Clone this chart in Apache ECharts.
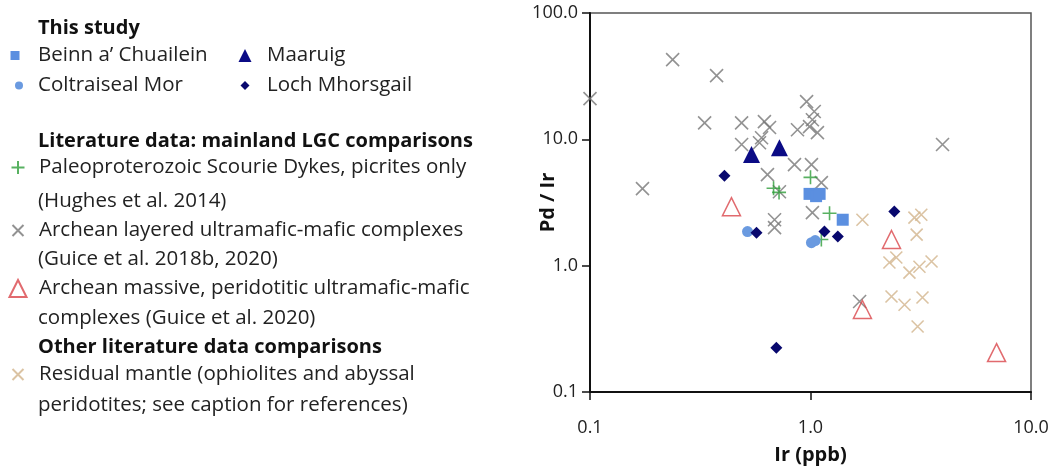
<!DOCTYPE html>
<html><head><meta charset="utf-8">
<script src="https://cdn.jsdelivr.net/npm/echarts@6/dist/echarts.min.js"></script>
<style>html,body{margin:0;padding:0;background:#fff}#c{width:1063px;height:476px}</style>
</head><body><div id="c"></div>
<script>
// Ir (ppb), Pd/Ir pairs per group
const beinnSquares = [[0.99,3.7],[1.06,3.55],[1.1,3.7],[1.40,2.31]];
const coltraisealCircles = [[0.518,1.86],[1.01,1.52],[1.05,1.58]];
const maaruigTriangles = [[0.54,7.57],[0.723,8.59]];
const lochDiamonds = [[0.407,5.16],[0.569,1.82],[0.70,0.224],[1.157,1.86],[1.33,1.70],[2.40,2.68]];
const scourieDykes = [[0.68,4.1],[0.72,3.8],[1.0,5.0],[1.22,2.6],[1.12,1.61]];
const archeanLayered = [[0.1,21],[0.237,42.7],[0.375,31.9],[0.331,13.5],[0.173,4.07],[0.487,13.5],[0.618,13.8],[0.652,12.4],[0.487,9.1],[0.60,10.3],[0.587,9.4],[0.96,19.9],[1.04,16.6],[0.873,11.9],[0.99,12.6],[1.075,11.3],[1.02,14.3],[0.638,5.25],[0.846,6.3],[1.01,6.3],[0.723,3.85],[3.97,9.1],[0.687,2.31],[0.687,2.0],[1.12,4.54],[1.02,2.63],[1.67,0.52]];
const archeanMassive = [[0.438,2.93],[2.33,1.61],[1.72,0.45],[6.98,0.205]];
const residualMantle = [[1.72,2.31],[2.96,2.40],[3.18,2.53],[3.03,1.76],[2.28,1.06],[2.45,1.16],[2.81,0.88],[3.12,0.98],[3.54,1.08],[2.33,0.57],[2.67,0.49],[3.22,0.56],[3.06,0.33]];

const names = {
  beinn: 'Beinn a\u2019 Chuailein',
  colt: 'Coltraiseal Mor',
  maar: 'Maaruig',
  loch: 'Loch Mhorsgail',
  scour: 'Paleoproterozoic Scourie Dykes, picrites only',
  layered: 'Archean layered ultramafic-mafic complexes',
  massive: 'Archean massive, peridotitic ultramafic-mafic',
  mantle: 'Residual mantle (ophiolites and abyssal'
};
const headings = [['This study',26],['Literature data: mainland LGC comparisons',139],['Other literature data comparisons',345]];
const contLines = [['(Hughes et al. 2014)',199],['(Guice et al. 2018b, 2020)',257],['complexes (Guice et al. 2020)',316],['peridotites; see caption for references)',403]];

const FONT = 'Open Sans';
const LFS = 20.5;
const HFS = 20;
const XPATH = 'path://M0,0L10,10M10,0L0,10';
const PPATH = 'path://M5,0L5,10M0,5L10,5';

function strokeSeries(name, data, path, color, size, z) {
  return {type:'scatter', name, data, symbol:path, symbolSize:size, z,
    itemStyle:{color:'rgba(0,0,0,0)', borderColor:color, borderWidth:1.6},
    emphasis:{disabled:true}};
}
function fillSeries(name, data, sym, color, size, z) {
  return {type:'scatter', name, data, symbol:sym, symbolSize:size, z,
    itemStyle:{color, opacity:1}, emphasis:{disabled:true}};
}
// cx: icon centre, cy: text visual centre, h: icon size, tx: text start
function leg(name, cx, cy, h, tx) {
  const left = cx - h / 2;
  const pad = tx - (left + h + 5);
  return {data:[name], left, top:cy - 8, itemWidth:h, itemHeight:h, padding:0,
    selectedMode:false, symbolKeepAspect:true,
    textStyle:{fontFamily:FONT, fontSize:LFS, color:'#222', padding:[0,0,0,pad]}};
}

const chart = echarts.init(document.getElementById('c'));
chart.setOption({
  animation:false,
  grid:{left:590, right:32, top:13, bottom:84, show:true, borderColor:'#555', borderWidth:1.5, backgroundColor:'#fff'},
  xAxis:{type:'log', logBase:10, min:0.1, max:10,
    axisLine:{show:true, onZero:false, lineStyle:{color:'#111', width:2}},
    axisTick:{show:true, length:8, lineStyle:{color:'#111', width:1.5}},
    minorTick:{show:false}, splitLine:{show:false},
    axisLabel:{margin:27, fontFamily:FONT, fontSize:18, color:'#222', formatter:v=>Number(v).toFixed(1)},
    name:'Ir (ppb)', nameLocation:'middle', nameGap:53, nameMoveOverlap:false,
    nameTextStyle:{fontFamily:FONT, fontSize:20, fontWeight:'bold', color:'#111'}},
  yAxis:{type:'log', logBase:10, min:0.1, max:100,
    axisLine:{show:true, onZero:false, lineStyle:{color:'#111', width:2}},
    axisTick:{show:true, length:8, lineStyle:{color:'#111', width:1.5}},
    minorTick:{show:false}, splitLine:{show:false},
    axisLabel:{margin:12, fontFamily:FONT, fontSize:18, color:'#222', formatter:v=>Number(v).toFixed(1)},
    name:'Pd / Ir', nameLocation:'middle', nameGap:32, nameMoveOverlap:false,
    nameTextStyle:{fontFamily:FONT, fontSize:20, fontWeight:'bold', color:'#111'}},
  legend:[
    leg(names.beinn, 15, 53, 9, 38),
    leg(names.colt, 19, 83, 8, 38),
    leg(names.maar, 245, 53, 13, 267),
    leg(names.loch, 245, 83, 9, 267),
    leg(names.scour, 17, 165, 13, 38),
    leg(names.layered, 17, 228, 11, 38),
    leg(names.massive, 17, 286, 17, 38),
    leg(names.mantle, 17, 372, 11, 38)
  ],
  graphic:[
    ...headings.map(([t,y])=>({type:'text', x:38, y:y+2.5, style:{text:t, verticalAlign:'middle', fontFamily:FONT, fontSize:HFS, fontWeight:'bold', fill:'#111'}})),
    ...contLines.map(([t,y])=>({type:'text', x:38, y:y+2.5, style:{text:t, verticalAlign:'middle', fontFamily:FONT, fontSize:LFS, fill:'#222'}}))
  ],
  series:[
    strokeSeries(names.layered, archeanLayered, XPATH, '#777777', 13, 2),
    strokeSeries(names.mantle, residualMantle, XPATH, '#d2b48c', 12, 3),
    {type:'scatter', name:names.massive, data:archeanMassive, symbol:'triangle', symbolSize:18, z:4,
      itemStyle:{color:'rgba(0,0,0,0)', borderColor:'#d9454a', borderWidth:1.5}, emphasis:{disabled:true}},
    strokeSeries(names.scour, scourieDykes, PPATH, '#2e9e3a', 14, 5),
    fillSeries(names.beinn, beinnSquares, 'rect', '#5b8fe0', 12, 6),
    fillSeries(names.colt, coltraisealCircles, 'circle', '#6a9ae0', 11, 7),
    fillSeries(names.maar, maaruigTriangles, 'triangle', '#0b0b85', 17, 8),
    fillSeries(names.loch, lochDiamonds, 'diamond', '#08086e', 12, 9)
  ]
});
</script></body></html>
